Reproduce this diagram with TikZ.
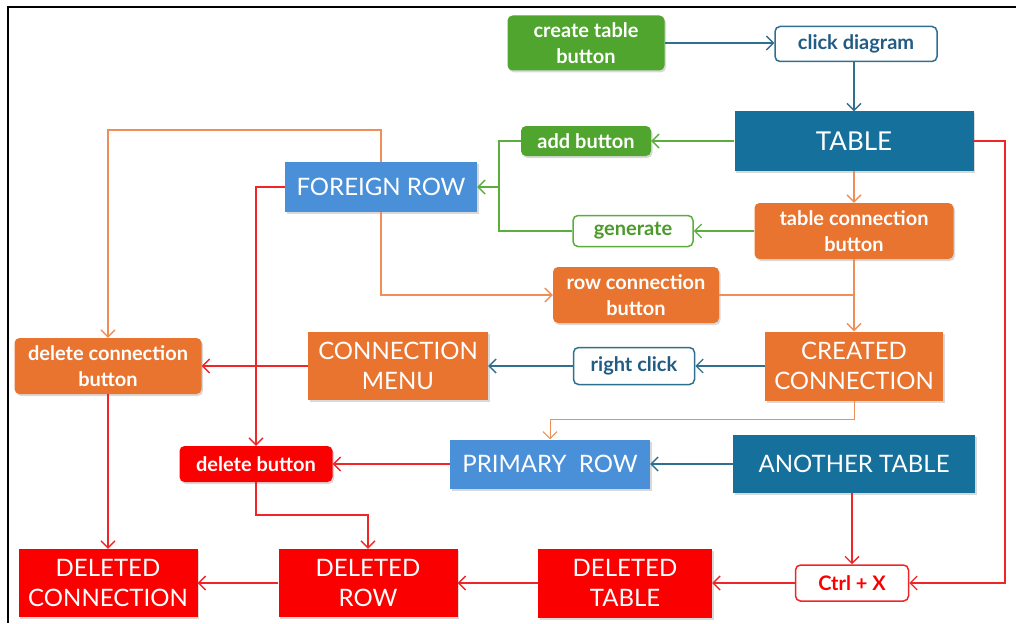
\documentclass[tikz,border=0pt]{standalone}
\usepackage{fontspec}
\setmainfont{Lato}
\usetikzlibrary{arrows.meta,shadows}
\definecolor{boxteal}{HTML}{15709C}
\definecolor{boxblue}{HTML}{4A90D9}
\definecolor{boxorange}{HTML}{E8742F}
\definecolor{boxgreen}{HTML}{4FA52E}
\definecolor{boxred}{HTML}{FA0000}
\definecolor{lineteal}{HTML}{2F6F90}
\definecolor{linegreen}{HTML}{5BAE3C}
\definecolor{lineorange}{HTML}{EE8F58}
\definecolor{linered}{HTML}{F02528}
\definecolor{txtteal}{HTML}{215C84}
\definecolor{txtgreen}{HTML}{4C9A2A}
\begin{document}
\begin{tikzpicture}[x=1pt,y=-1pt,
  bigbox/.style={rectangle,inner sep=0pt,text=white,align=center,
    font=\fontsize{24}{30}\selectfont,
    drop shadow={shadow xshift=1.5pt,shadow yshift=-2pt,opacity=0.3}},
  smallbtn/.style={rectangle,rounded corners=5pt,inner sep=0pt,text=white,align=center,
    font=\bfseries\fontsize{20}{26}\selectfont,
    drop shadow={shadow xshift=1.5pt,shadow yshift=-2pt,opacity=0.3}},
  outbtn/.style={rectangle,rounded corners=5pt,inner sep=0pt,fill=white,line width=1.5pt,
    align=center,font=\bfseries\fontsize{20}{24}\selectfont},
  link/.style={line width=1.3pt,-{Straight Barb[length=7pt,width=14pt]}},
  plain/.style={line width=1.3pt}]
\useasboundingbox (0,0) rectangle (1016,623);
\draw[line width=2pt] (1016,7) -- (8,7) -- (8,623);

% top part
\node[smallbtn,fill=boxgreen,minimum width=157pt,minimum height=55pt] (ctb) at (586,43) {create table\\button};
\node[outbtn,draw=lineteal,text=txtteal,minimum width=162pt,minimum height=35pt] (cd) at (856,44) {click diagram};
\node[bigbox,fill=boxteal,minimum width=239pt,minimum height=59pt,font=\fontsize{26}{30}\selectfont] (tab) at (854,141) {TABLE};
\node[smallbtn,fill=boxgreen,minimum width=130pt,minimum height=30pt] (add) at (586,141) {add button};
\node[bigbox,fill=boxblue,minimum width=192pt,minimum height=50pt] (fr) at (381,187) {FOREIGN ROW};
\node[smallbtn,fill=boxorange,minimum width=199pt,minimum height=56pt] (tcb) at (854,231) {table connection\\button};
\node[outbtn,draw=linegreen,text=txtgreen,minimum width=120pt,minimum height=31pt] (gen) at (633,231) {generate};
\node[smallbtn,fill=boxorange,minimum width=166pt,minimum height=56pt] (rcb) at (636,295) {row connection\\button};

% middle part
\node[bigbox,fill=boxorange,minimum width=178pt,minimum height=69pt] (cc) at (854,366) {CREATED\\CONNECTION};
\node[outbtn,draw=lineteal,text=txtteal,minimum width=121pt,minimum height=37pt] (rc) at (634,366) {right click};
\node[bigbox,fill=boxorange,minimum width=180pt,minimum height=68pt] (cm) at (398,366) {CONNECTION\\MENU};
\node[smallbtn,fill=boxorange,minimum width=187pt,minimum height=56pt] (dcb) at (108,366) {delete connection\\button};
\node[smallbtn,fill=boxred,minimum width=153pt,minimum height=36pt] (db) at (256,464) {delete button};
\node[bigbox,fill=boxblue,minimum width=200pt,minimum height=49pt] (pr) at (550,464) {PRIMARY~~ROW};
\node[bigbox,fill=boxteal,minimum width=242pt,minimum height=58pt] (at) at (854,464) {ANOTHER TABLE};

% bottom row
\node[bigbox,fill=boxred,minimum width=179pt,minimum height=68pt] (dc) at (108,583) {DELETED\\CONNECTION};
\node[bigbox,fill=boxred,minimum width=179pt,minimum height=68pt] (dr) at (368,583) {DELETED\\ROW};
\node[bigbox,fill=boxred,minimum width=174pt,minimum height=69pt] (dt) at (625,583) {DELETED\\TABLE};
\node[outbtn,draw=linered,text=boxred,minimum width=113pt,minimum height=36pt] (cx) at (852,583) {Ctrl + X};

\coordinate (gj) at (499,187);
\coordinate (ftop) at (381,130);
\coordinate (cj) at (854,419);
\coordinate (dj) at (256,515);
\coordinate (rj) at (1005,141);

\draw[link,lineteal] (ctb.east) -- (cd.west |- ctb.east);
\draw[link,lineteal] (cd.south -| tab.north) -- (tab.north);
\draw[link,linegreen] (tab.west) -- (add.east);
\draw[plain,linegreen] (add.west) -| (gj);
\draw[plain,linegreen] (gen.west) -| (gj);
\draw[link,linegreen] (gj) -- (fr.east);
\draw[link,lineorange] (tab.south) -- (tcb.north);
\draw[link,linegreen] (tcb.west) -- (gen.east);
\draw[link,lineorange] (tcb.south) -- (cc.north);
\draw[plain,lineorange] (rcb.east) -- (rcb.east -| cc.north);
\draw[link,lineorange] (fr.south) |- (rcb.west);
\draw[link,lineorange] (fr.north) -- (ftop) -| (dcb.north);
\draw[link,linered] (fr.west) -| (db.north);
\draw[link,lineteal] (cc.west) -- (rc.east);
\draw[link,lineteal] (rc.west) -- (cm.east);
\draw[link,linered] (cm.west) -- (dcb.east);
\draw[link,lineorange,line width=1pt] (cc.south) -- (cj) -| (pr.north);
\draw[link,lineteal] (at.west) -- (pr.east);
\draw[link,linered] (pr.west) -- (db.east);
\draw[link,linered] (db.south) -- (dj) -| (dr.north);
\draw[link,linered] (dcb.south) -- (dc.north);
\draw[link,linered] (dr.west) -- (dc.east);
\draw[link,linered] (dt.west) -- (dr.east);
\draw[link,linered] (cx.west) -- (dt.east);
\draw[link,linered] (at.south -| cx.north) -- (cx.north);
\draw[link,linered] (tab.east) -- (rj) |- (cx.east);
\end{tikzpicture}
\end{document}
